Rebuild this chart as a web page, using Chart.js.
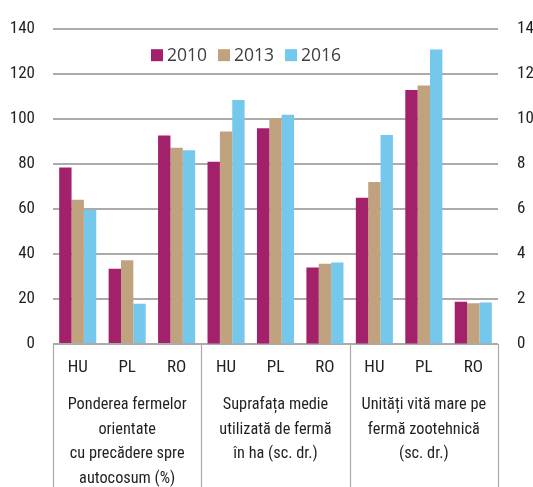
<!DOCTYPE html>
<html>
<head>
<meta charset="utf-8">
<script src="https://cdn.jsdelivr.net/npm/chart.js@4"></script>
<style>
html,body{margin:0;padding:0;background:#fff;}
#wrap{width:533px;height:487px;position:relative;}
</style>
</head>
<body>
<div id="wrap"><canvas id="c" width="533" height="487"></canvas></div>
<script>
// ---- data ----
const categories = ['HU','PL','RO','HU','PL','RO','HU','PL','RO'];
const groupLabels = [
  ['Ponderea fermelor','orientate','cu precădere spre','autocosum (%)'],
  ['Suprafața medie','utilizată de fermă','în ha (sc. dr.)'],
  ['Unități vită mare pe','fermă zootehnică','(sc. dr.)']
];
const years = ['2010','2013','2016'];
// Share of farms oriented towards self-consumption (%) - left scale
const share2010 = [78.5, 33.5, 92.7];
const share2013 = [64.2, 37.3, 87.3];
const share2016 = [59.6, 17.9, 86.2];
// Average utilised area per farm, ha - right scale
const area2010 = [8.1, 9.6, 3.4];
const area2013 = [9.45, 10.05, 3.57];
const area2016 = [10.85, 10.2, 3.63];
// Livestock units per livestock farm - right scale
const lu2010 = [6.5, 11.3, 1.88];
const lu2013 = [7.2, 11.5, 1.81];
const lu2016 = [9.3, 13.1, 1.85];
const leftTicks = [0,20,40,60,80,100,120,140];
const rightTicks = [0,2,4,6,8,10,12,14];

// ---- style ----
const colors = ['#A3216A','#C1A27E','#74C8EC'];
const FONT = '"Roboto Condensed","DejaVu Sans Condensed",sans-serif';
const TXT = '#231f20';
const GRID = '#ababab';

const shares = [share2010, share2013, share2016];
const areas = [area2010, area2013, area2016];
const lus = [lu2010, lu2013, lu2016];
const nul3 = [null,null,null];
const datasets = [];
years.forEach((y,i)=>{
  datasets.push({label:y, data: shares[i].concat(nul3, nul3), backgroundColor:colors[i], yAxisID:'yL'});
});
years.forEach((y,i)=>{
  datasets.push({label:y, data: nul3.concat(areas[i], lus[i]), backgroundColor:colors[i], yAxisID:'yR'});
});

const deco = {
  id:'deco',
  afterDraw(chart){
    const ctx = chart.ctx, ca = chart.chartArea, xs = chart.scales.x;
    const H = chart.height;
    // group separators
    const bounds = [ca.left];
    [2,5].forEach(i=>bounds.push((xs.getPixelForValue(i)+xs.getPixelForValue(i+1))/2));
    bounds.push(ca.right);
    ctx.save();
    ctx.strokeStyle = GRID; ctx.lineWidth = 1.2;
    bounds.forEach(x=>{
      ctx.beginPath(); ctx.moveTo(Math.round(x)+0.5, ca.bottom); ctx.lineTo(Math.round(x)+0.5, H); ctx.stroke();
    });
    // group labels
    ctx.fillStyle = TXT; ctx.font = '16.3px '+FONT;
    ctx.textAlign = 'center'; ctx.textBaseline = 'middle';
    groupLabels.forEach((lines,g)=>{
      const cx = (bounds[g]+bounds[g+1])/2;
      lines.forEach((t,k)=>ctx.fillText(t, cx, ca.bottom + 61 + k*24.5));
    });
    // legend
    ctx.font = '17.5px "Open Sans",sans-serif';
    ctx.textAlign = 'left';
    let x = ca.left + 98; const y = ca.top + 26;
    years.forEach((yr,i)=>{
      ctx.fillStyle = colors[i];
      ctx.fillRect(x, y-6, 12, 12);
      x += 16;
      ctx.fillStyle = '#404040';
      ctx.fillText(yr, x, y+1);
      x += ctx.measureText(yr).width + 11;
    });
    ctx.restore();
  }
};

new Chart(document.getElementById('c'), {
  type:'bar',
  data:{labels:categories, datasets},
  plugins:[deco],
  options:{
    responsive:false,
    animation:false,
    devicePixelRatio:1,
    layout:{padding:{top:14.8,left:0,right:0,bottom:0}},
    datasets:{bar:{skipNull:true, categoryPercentage:0.75, barPercentage:1.0, borderWidth:0}},
    plugins:{legend:{display:false}, tooltip:{enabled:false}},
    scales:{
      x:{
        grid:{display:false, drawTicks:false},
        border:{display:false},
        ticks:{font:{family:FONT,size:17}, color:TXT, padding:14, maxRotation:0, autoSkip:false},
        afterFit(s){ s.height = 143; }
      },
      yL:{
        position:'left', min:0, max:140,
        afterBuildTicks(s){ s.ticks = leftTicks.map(v=>({value:v})); },
        grid:{color:GRID, lineWidth:2, drawTicks:false},
        border:{display:false},
        ticks:{font:{family:FONT,size:17}, color:TXT, padding:18},
        afterFit(s){ s.width = 53; }
      },
      yR:{
        position:'right', min:0, max:14,
        afterBuildTicks(s){ s.ticks = rightTicks.map(v=>({value:v})); },
        grid:{drawOnChartArea:false, drawTicks:false},
        border:{display:false},
        ticks:{font:{family:FONT,size:17}, color:TXT, padding:19},
        afterFit(s){ s.width = 35; }
      }
    }
  }
});
</script>
</body>
</html>
